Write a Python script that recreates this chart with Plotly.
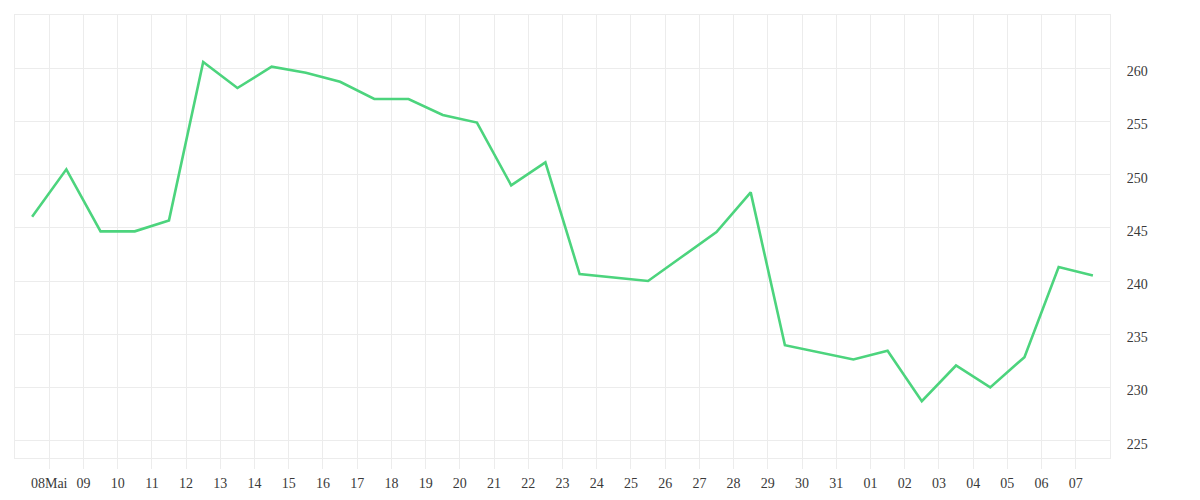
import plotly.graph_objects as go

# Data; each point sits at noon of its day
dates = [
    "2024-05-07", "2024-05-08", "2024-05-09", "2024-05-10", "2024-05-11",
    "2024-05-12", "2024-05-13", "2024-05-14", "2024-05-15", "2024-05-16",
    "2024-05-17", "2024-05-18", "2024-05-19", "2024-05-20", "2024-05-21",
    "2024-05-22", "2024-05-23", "2024-05-25", "2024-05-26", "2024-05-27",
    "2024-05-28", "2024-05-29", "2024-05-31", "2024-06-01", "2024-06-02",
    "2024-06-03", "2024-06-04", "2024-06-05", "2024-06-06", "2024-06-07",
]
values = [
    246.05, 250.5, 244.67, 244.67, 245.7,
    260.58, 258.14, 260.14, 259.58, 258.73,
    257.11, 257.11, 255.6, 254.89, 249.0,
    251.15, 240.66, 240.0, 242.3, 244.6,
    248.33, 233.97, 232.63, 233.44, 228.71,
    232.06, 230.0, 232.85, 241.31, 240.53,
]

tick_dates = [
    "2024-05-08", "2024-05-09", "2024-05-10", "2024-05-11", "2024-05-12",
    "2024-05-13", "2024-05-14", "2024-05-15", "2024-05-16", "2024-05-17",
    "2024-05-18", "2024-05-19", "2024-05-20", "2024-05-21", "2024-05-22",
    "2024-05-23", "2024-05-24", "2024-05-25", "2024-05-26", "2024-05-27",
    "2024-05-28", "2024-05-29", "2024-05-30", "2024-05-31", "2024-06-01",
    "2024-06-02", "2024-06-03", "2024-06-04", "2024-06-05", "2024-06-06",
    "2024-06-07",
]
tick_labels = [
    "08Mai", "09", "10", "11", "12", "13", "14", "15", "16", "17",
    "18", "19", "20", "21", "22", "23", "24", "25", "26", "27",
    "28", "29", "30", "31", "01", "02", "03", "04", "05", "06", "07",
]
y_ticks = [225, 230, 235, 240, 245, 250, 255, 260]

x_pts = [d + " 12:00" for d in dates]

GRID = "#ececec"
TEXT = "#3a3a3a"
FONT = "Liberation Serif"

fig = go.Figure()
fig.add_trace(go.Scatter(
    x=x_pts, y=values, mode="lines",
    line=dict(color="#4cd47d", width=2.6),
    hoverinfo="x+y",
))

# the page body adds an 8px margin, so the figure is shrunk accordingly
fig.update_layout(
    width=1192, height=492,
    margin=dict(l=7, r=90, t=7, b=42),
    paper_bgcolor="white", plot_bgcolor="white",
    showlegend=False,
    font=dict(family=FONT, size=14, color=TEXT),
)
fig.update_xaxes(
    type="date",
    range=["2024-05-07 00:00", "2024-06-08 00:00"],
    tickmode="array", tickvals=tick_dates, ticktext=tick_labels,
    showgrid=True, gridcolor=GRID, gridwidth=1,
    ticks="outside", ticklen=10, tickcolor=GRID, tickwidth=1,
    ticklabelstandoff=2,
    showline=True, linecolor=GRID, linewidth=1, mirror=True,
    zeroline=False, automargin=False,
    tickfont=dict(family=FONT, size=14, color=TEXT),
)
fig.update_yaxes(
    range=[223.37, 265.0],
    side="right",
    tickmode="array", tickvals=y_ticks,
    showgrid=True, gridcolor=GRID, gridwidth=1,
    ticks="", ticklabelstandoff=13, ticklabelshift=3,
    showline=True, linecolor=GRID, linewidth=1, mirror=True,
    zeroline=False, automargin=False,
    tickfont=dict(family=FONT, size=14, color=TEXT),
)

fig.write_html("out.html")
